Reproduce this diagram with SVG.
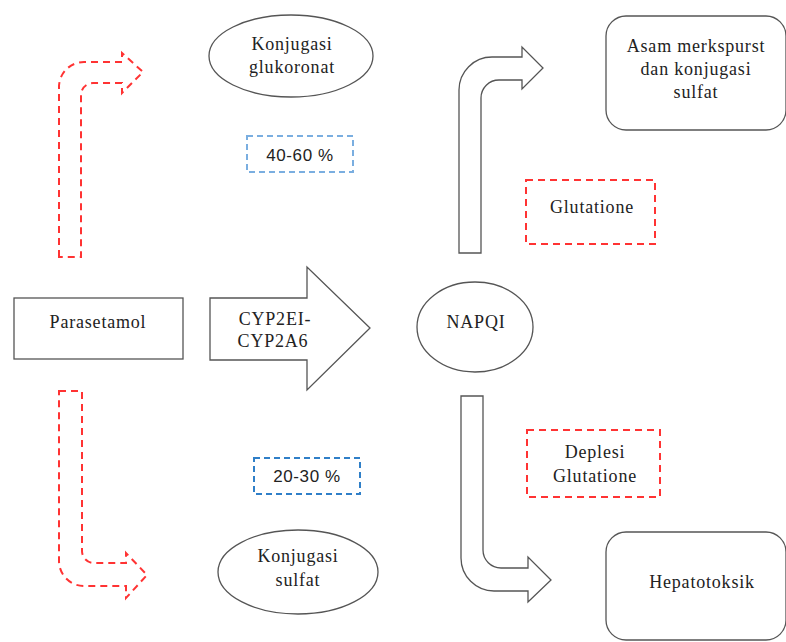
<svg xmlns="http://www.w3.org/2000/svg" width="786" height="642" viewBox="0 0 786 642">
<style>
.n{fill:#fff;stroke:#555;stroke-width:1.3}
.a{fill:#fff;stroke:#555;stroke-width:1.3}
.d{fill:none;stroke:#ff3333;stroke-width:2;stroke-dasharray:7,5}
.b1{fill:none;stroke:#7aaee0;stroke-width:2;stroke-dasharray:6,4}
.b2{fill:none;stroke:#2f7fc8;stroke-width:2;stroke-dasharray:6,4}
.t{font-family:"Liberation Serif",serif;font-size:18px;letter-spacing:0.8px;fill:#222;text-anchor:middle}
.s{font-family:"Liberation Sans",sans-serif;font-size:17px;letter-spacing:0.6px;fill:#222;text-anchor:middle}
</style>
<rect width="786" height="642" fill="#fff"/>
<g id="connectors">
<path class="d" d="M59,257 L59,87 A25,25 0 0 1 84,62 L122,62 L122,53 L143,72 L122,93 L122,83 L93,83 A12,12 0 0 0 81,95 L81,257 Z"/>
<path class="d" d="M59,391 L82,391 L82,551 A12,12 0 0 0 94,563 L126,563 L126,553 L147,575 L126,598 L126,586 L84,586 A25,25 0 0 1 59,561 Z"/>
<path class="a" d="M459,253 L459,90 A33,33 0 0 1 492,57 L522,57 L522,47 L543,68 L522,89 L522,80 L499,80 A18,18 0 0 0 481,98 L481,253 Z"/>
<path class="a" d="M461,396 L483,396 L483,550 A18,18 0 0 0 501,568 L528,568 L528,557 L551,580 L528,602 L528,591 L494,591 A33,33 0 0 1 461,558 Z"/>
</g>
<g id="cyp">
<path class="a" d="M210,298 L307,298 L307,267 L370,328 L307,390 L307,360 L210,360 Z"/>
<text class="t" x="275" y="325">CYP2EI-</text>
<text class="t" x="273" y="347">CYP2A6</text>
</g>
<g id="parasetamol">
<rect class="n" x="14" y="298" width="169" height="61"/>
<text class="t" x="98" y="328">Parasetamol</text>
</g>
<g id="glukoronat">
<ellipse class="n" cx="291" cy="56" rx="82" ry="41"/>
<text class="t" x="292" y="50">Konjugasi</text>
<text class="t" x="292" y="73">glukoronat</text>
</g>
<g id="p4060">
<rect class="b1" x="247" y="136" width="106" height="36"/>
<text class="s" x="300" y="161">40-60 %</text>
</g>
<g id="napqi">
<ellipse class="n" cx="475" cy="327" rx="58" ry="45"/>
<text class="t" x="476" y="328">NAPQI</text>
</g>
<g id="asam">
<rect class="n" x="606" y="16" width="180" height="114" rx="20"/>
<text class="t" x="696" y="52">Asam merkspurst</text>
<text class="t" x="696" y="75">dan konjugasi</text>
<text class="t" x="696" y="98">sulfat</text>
</g>
<g id="glutatione">
<rect class="d" x="526" y="180" width="129" height="64"/>
<text class="t" x="592" y="213">Glutatione</text>
</g>
<g id="deplesi">
<rect class="d" x="527" y="430" width="133" height="67"/>
<text class="t" x="595" y="458">Deplesi</text>
<text class="t" x="595" y="482">Glutatione</text>
</g>
<g id="p2030">
<rect class="b2" x="254" y="458" width="106" height="36"/>
<text class="s" x="307" y="482">20-30 %</text>
</g>
<g id="sulfat">
<ellipse class="n" cx="298" cy="572" rx="80" ry="42"/>
<text class="t" x="298" y="562">Konjugasi</text>
<text class="t" x="298" y="586">sulfat</text>
</g>
<g id="hepatotoksik">
<rect class="n" x="606" y="532" width="180" height="108" rx="20"/>
<text class="t" x="702" y="588">Hepatotoksik</text>
</g>
</svg>
